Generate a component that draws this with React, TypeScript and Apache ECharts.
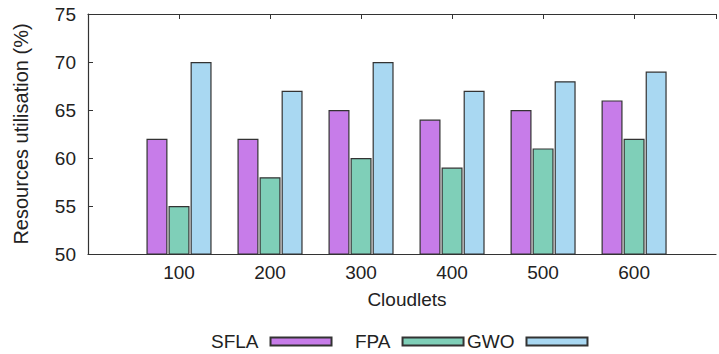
import React, { useEffect, useRef } from "react";
import * as echarts from "echarts";

const categories = [100, 200, 300, 400, 500, 600];
const SFLA = [62, 62, 65, 64, 65, 66];
const FPA = [55, 58, 60, 59, 61, 62];
const GWO = [70, 67, 70, 67, 68, 69];
const yTicks = { min: 50, max: 75, interval: 5 };

const FONT = "'Liberation Sans', Arial, Helvetica, sans-serif";
const TEXT = "#222";
const LINE = "#333";

export default function App() {
  const ref = useRef<HTMLDivElement>(null);
  useEffect(() => {
    document.body.style.margin = "0";
    const chart = echarts.init(ref.current!, null, { renderer: "svg" });
    const mk = (name: string, vals: number[], color: string) => ({
      name,
      type: "bar",
      xAxisIndex: 0,
      barWidth: 21,
      barGap: "5%",
      itemStyle: { color, borderColor: LINE, borderWidth: 1.2 },
      data: categories.map((c, i) => [c, vals[i]]),
    });
    const legendItem = (name: string, left: number) => ({
      data: [name],
      left,
      top: 332,
      padding: 0,
      align: "right",
      itemWidth: 61,
      itemHeight: 8,
      icon: "rect",
      textStyle: {
        fontFamily: FONT,
        fontSize: 19,
        color: TEXT,
        padding: [0, 7, 0, 0],
      },
    });
    chart.setOption({
      animation: false,
      textStyle: { fontFamily: FONT },
      grid: { left: 88, right: 0, top: 14, bottom: 100, containLabel: false },
      legend: [
        legendItem("SFLA", 211),
        legendItem("FPA", 355),
        legendItem("GWO", 467),
      ],
      xAxis: [
        {
          type: "value",
          position: "bottom",
          min: 0,
          max: 690,
          interval: 100,
          splitLine: { show: false },
          axisLine: { show: true, lineStyle: { color: LINE, width: 1.2 } },
          axisTick: { show: false },
          axisLabel: {
            fontSize: 19,
            color: TEXT,
            margin: 9,
            fontFamily: FONT,
            formatter: (v: number) => (categories.includes(v) ? String(v) : ""),
          },
          name: "Cloudlets",
          nameLocation: "middle",
          nameGap: 36,
          nameTextStyle: { fontSize: 19, color: TEXT, fontFamily: FONT, padding: [0, 0, 0, 10] },
        },
        {
          type: "value",
          position: "top",
          min: 0,
          max: 690,
          interval: 100,
          splitLine: { show: false },
          axisLine: { show: true, lineStyle: { color: LINE, width: 1.2 } },
          axisTick: { show: true, inside: true, length: 5, lineStyle: { color: LINE } },
          axisLabel: { show: false },
        },
      ],
      yAxis: {
        type: "value",
        min: yTicks.min,
        max: yTicks.max,
        interval: yTicks.interval,
        splitLine: { show: false },
        axisLine: { show: true, lineStyle: { color: LINE, width: 1.2 } },
        axisTick: { show: true, inside: true, length: 5, lineStyle: { color: LINE } },
        axisLabel: { fontSize: 19, color: TEXT, margin: 12, fontFamily: FONT },
        name: "Resources utilisation (%)",
        nameLocation: "middle",
        nameRotate: 90,
        nameGap: 57,
        nameTextStyle: { fontSize: 20, color: TEXT, fontFamily: FONT },
      },
      series: [
        mk("SFLA", SFLA, "#C77CE9"),
        mk("FPA", FPA, "#7FCFB8"),
        mk("GWO", GWO, "#A9D8F2"),
      ],
    });
    return () => chart.dispose();
  }, []);
  return <div ref={ref} style={{ width: 719, height: 354 }} />;
}
